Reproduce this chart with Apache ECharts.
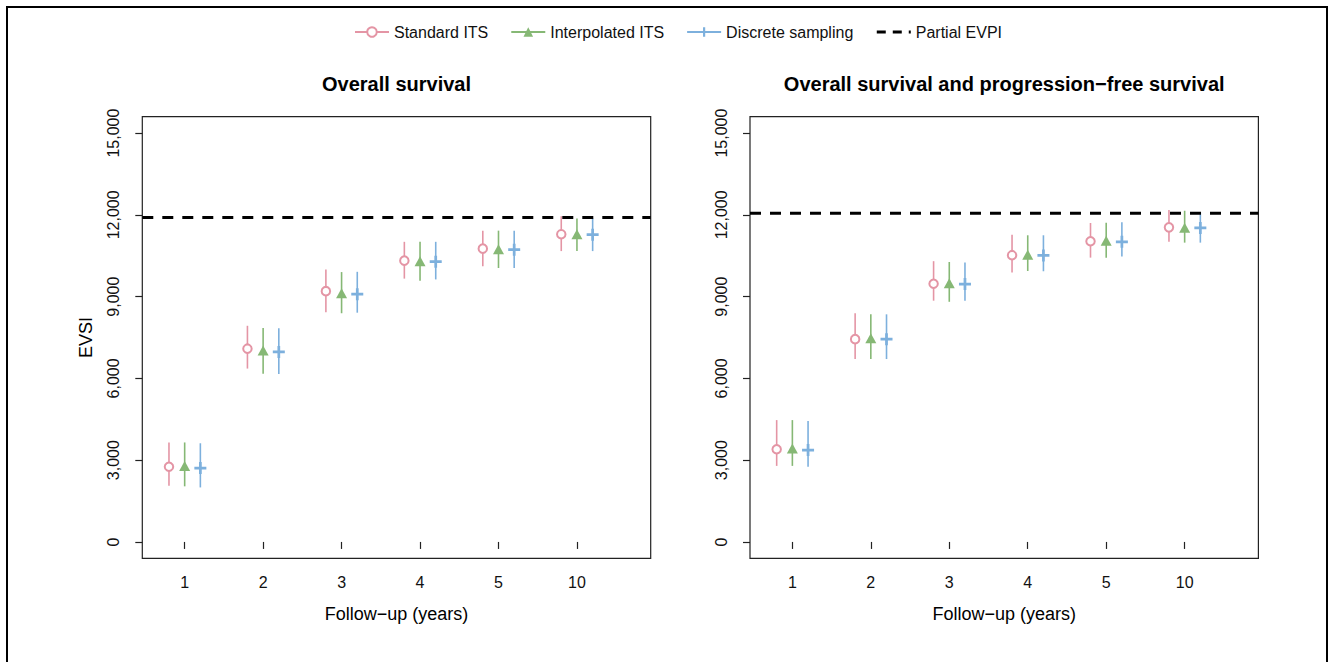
<!DOCTYPE html>
<html>
<head>
<meta charset="utf-8">
<title>EVSI by follow-up</title>
<script src="https://cdn.jsdelivr.net/npm/echarts@6/dist/echarts.min.js"></script>
<style>
  html, body { margin: 0; padding: 0; background: #fff; }
  #main { width: 1329px; height: 662px; }
</style>
</head>
<body>
<div id="main"></div>
<script>
// follow-up years (category labels at positions 1..6)
var years = ['1', '2', '3', '4', '5', '10'];
var yTicks = [0, 3000, 6000, 9000, 12000, 15000];
var methods = ['Standard ITS', 'Interpolated ITS', 'Discrete sampling'];

// panel 1: overall survival
var osStdMean = [2760, 7090, 9200, 10320, 10760, 11290];
var osStdLo = [2060, 6360, 8430, 9660, 10110, 10670];
var osStdHi = [3650, 7930, 9990, 11010, 11420, 11950];
var osIntMean = [2790, 7020, 9120, 10300, 10740, 11290];
var osIntLo = [2040, 6170, 8390, 9580, 10050, 10670];
var osIntHi = [3650, 7850, 9900, 11010, 11420, 11870];
var osDisMean = [2710, 6970, 9090, 10280, 10720, 11270];
var osDisLo = [2000, 6160, 8410, 9630, 10050, 10670];
var osDisHi = [3620, 7840, 9910, 11010, 11420, 11870];
var osEvpi = 11900;

// panel 2: overall survival and progression-free survival
var pfsStdMean = [3400, 7440, 9470, 10520, 11030, 11540];
var pfsStdLo = [2790, 6710, 8850, 9880, 10430, 11010];
var pfsStdHi = [4470, 8390, 10300, 11270, 11700, 12180];
var pfsIntMean = [3430, 7470, 9490, 10540, 11050, 11530];
var pfsIntLo = [2790, 6710, 8810, 9940, 10430, 10980];
var pfsIntHi = [4470, 8350, 10270, 11250, 11710, 12150];
var pfsDisMean = [3370, 7440, 9460, 10510, 11010, 11520];
var pfsDisLo = [2760, 6710, 8850, 9930, 10470, 10980];
var pfsDisHi = [4440, 8350, 10250, 11250, 11730, 12090];
var pfsEvpi = 12060;

var colors = ['#E495A5', '#86B875', '#7DB0DD'];
var offsets = [-0.2, 0, 0.2];
var xMin = 0.46, xMax = 6.94;
var font = 'Liberation Sans';
var plusPath = 'path://M4.25,0H6.75V4.25H11V6.75H6.75V11H4.25V6.75H0V4.25H4.25Z';
var symbols = ['emptyCircle', 'triangle', plusPath];
var symbolSizes = [8.5, [11, 10], 12];

var chart = echarts.init(document.getElementById('main'), null, { renderer: 'svg' });

function xAxisFor(idx) {
    return {
        type: 'value',
        gridIndex: idx,
        min: xMin,
        max: xMax,
        name: 'Follow\u2212up (years)',
        nameLocation: 'middle',
        nameGap: 47,
        nameTextStyle: { fontFamily: font, fontSize: 18, color: '#000' },
        axisLine: { show: false },
        splitLine: { show: false },
        axisTick: {
            show: true, length: 7, customValues: [1, 2, 3, 4, 5, 6],
            lineStyle: { color: '#222', width: 1.2 }
        },
        axisLabel: {
            show: true, margin: 16, customValues: [1, 2, 3, 4, 5, 6],
            fontFamily: font, fontSize: 16, color: '#111',
            formatter: function (v) { return years[Math.round(v) - 1]; }
        }
    };
}

function yAxisFor(idx, withName) {
    return {
        type: 'value',
        gridIndex: idx,
        min: -600,
        max: 15600,
        name: withName ? 'EVSI' : '',
        nameLocation: 'middle',
        nameGap: 47,
        nameTextStyle: { fontFamily: font, fontSize: 18, color: '#000' },
        axisLine: { show: false },
        splitLine: { show: false },
        axisTick: {
            show: true, length: 7, customValues: yTicks,
            lineStyle: { color: '#222', width: 1.2 }
        },
        axisLabel: {
            show: true, rotate: 90, margin: 21, customValues: yTicks,
            fontFamily: font, fontSize: 16, color: '#111',
            formatter: function (v) { return v.toLocaleString('en-US'); }
        }
    };
}

// vertical interval lines drawn through the axis scales
function errorSeries(idx, m, lo, hi) {
    var d = lo.map(function (l, i) { return [i + 1 + offsets[m], l, hi[i]]; });
    return {
        name: methods[m] + ' interval ' + idx,
        type: 'custom',
        xAxisIndex: idx,
        yAxisIndex: idx,
        silent: true,
        data: d,
        encode: { x: 0, y: [1, 2] },
        renderItem: function (params, api) {
            var a = api.coord([api.value(0), api.value(1)]);
            var b = api.coord([api.value(0), api.value(2)]);
            return {
                type: 'line',
                shape: { x1: a[0], y1: a[1], x2: b[0], y2: b[1] },
                style: { stroke: colors[m], lineWidth: 1.6 }
            };
        },
        z: 2
    };
}

function pointSeries(idx, m, mean) {
    return {
        name: methods[m],
        type: 'line',
        xAxisIndex: idx,
        yAxisIndex: idx,
        data: mean.map(function (v, i) { return [i + 1 + offsets[m], v]; }),
        symbol: symbols[m],
        symbolSize: symbolSizes[m],
        showSymbol: true,
        lineStyle: { width: 0, opacity: 0 },
        itemStyle: { color: colors[m], borderWidth: m === 0 ? 2 : 0 },
        animation: false,
        z: 3
    };
}

function evpiSeries(idx, v) {
    return {
        name: 'Partial EVPI',
        type: 'line',
        xAxisIndex: idx,
        yAxisIndex: idx,
        data: [[xMin, v], [xMax, v]],
        symbol: 'none',
        lineStyle: { color: '#000', width: 3, type: [11, 9] },
        itemStyle: { color: '#000' },
        z: 4
    };
}

var series = [];
[[osStdMean, osStdLo, osStdHi], [osIntMean, osIntLo, osIntHi], [osDisMean, osDisLo, osDisHi]]
    .forEach(function (s, m) { series.push(errorSeries(0, m, s[1], s[2])); });
[[pfsStdMean, pfsStdLo, pfsStdHi], [pfsIntMean, pfsIntLo, pfsIntHi], [pfsDisMean, pfsDisLo, pfsDisHi]]
    .forEach(function (s, m) { series.push(errorSeries(1, m, s[1], s[2])); });
series.push(pointSeries(0, 0, osStdMean), pointSeries(0, 1, osIntMean), pointSeries(0, 2, osDisMean));
series.push(pointSeries(1, 0, pfsStdMean), pointSeries(1, 1, pfsIntMean), pointSeries(1, 2, pfsDisMean));
series.push(evpiSeries(0, osEvpi), evpiSeries(1, pfsEvpi));

var option = {
    backgroundColor: '#fff',
    animation: false,
    legend: {
        left: 349,
        top: 19,
        itemWidth: 34,
        itemHeight: 12,
        itemGap: 22,
        selectedMode: false,
        textStyle: { fontFamily: font, fontSize: 16, color: '#111' },
        data: [
            { name: methods[0], lineStyle: { width: 2, opacity: 1, color: colors[0] } },
            { name: methods[1], lineStyle: { width: 2, opacity: 1, color: colors[1] } },
            { name: methods[2], lineStyle: { width: 2, opacity: 1, color: colors[2] } },
            { name: 'Partial EVPI', itemStyle: { opacity: 0 }, lineStyle: { width: 3, color: '#000', type: [9, 7] } }
        ]
    },
    grid: [
        { left: 142.3, top: 116.7, width: 508.4, height: 441.6, show: true, borderColor: '#222', borderWidth: 1.2, backgroundColor: 'transparent' },
        { left: 750, top: 116.7, width: 508.4, height: 441.6, show: true, borderColor: '#222', borderWidth: 1.2, backgroundColor: 'transparent' }
    ],
    xAxis: [xAxisFor(0), xAxisFor(1)],
    yAxis: [yAxisFor(0, true), yAxisFor(1, false)],
    graphic: [
        {
            type: 'text', x: 396.5, y: 84,
            style: { text: 'Overall survival', fill: '#000', font: 'bold 20px "Liberation Sans"', textAlign: 'center', textVerticalAlign: 'middle' }
        },
        {
            type: 'text', x: 1004.2, y: 84,
            style: { text: 'Overall survival and progression\u2212free survival', fill: '#000', font: 'bold 20px "Liberation Sans"', textAlign: 'center', textVerticalAlign: 'middle' }
        },
        {
            type: 'polyline', silent: true,
            shape: { points: [[7, 662], [7, 7], [1327, 7], [1327, 662]] },
            style: { stroke: '#000', lineWidth: 2, fill: null }
        }
    ],
    series: series
};

chart.setOption(option);
</script>
</body>
</html>
